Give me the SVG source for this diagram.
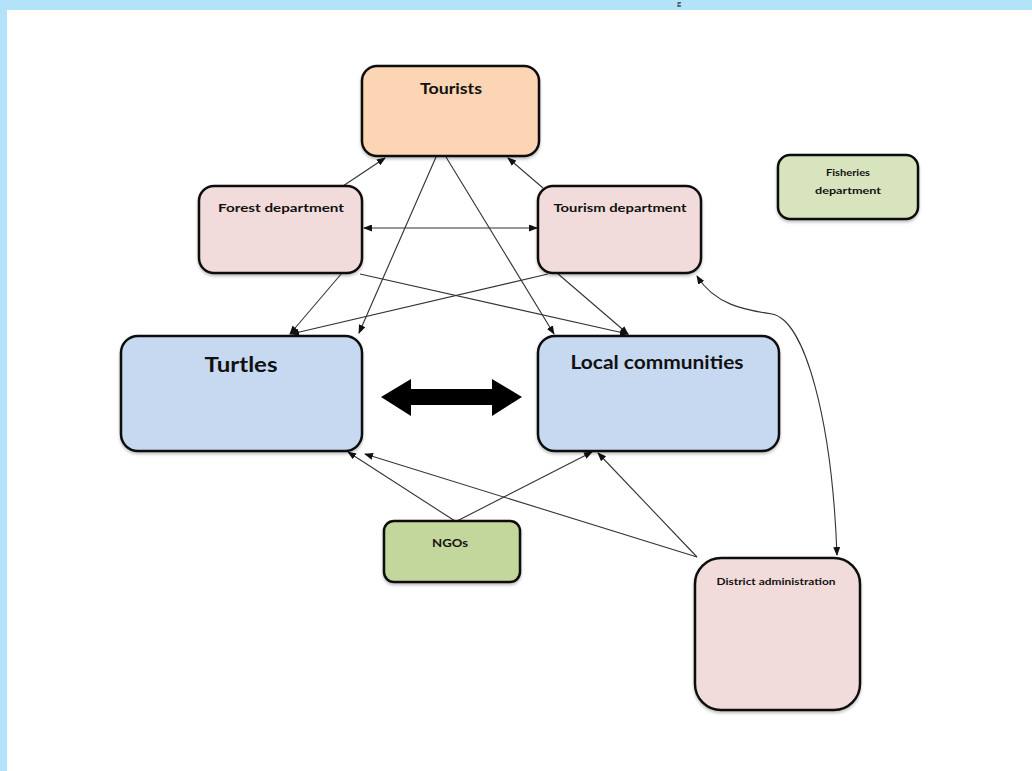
<svg xmlns="http://www.w3.org/2000/svg" width="1032" height="771" viewBox="0 0 1032 771">
<defs>
<marker id="ah" markerUnits="userSpaceOnUse" markerWidth="9" markerHeight="7" refX="8" refY="3.5" orient="auto-start-reverse">
<path d="M0,0 L9,3.5 L0,7 z" fill="#111"/>
</marker>
<filter id="sh" x="-10%" y="-10%" width="120%" height="130%">
<feDropShadow dx="0" dy="2" stdDeviation="1.5" flood-color="#000" flood-opacity="0.25"/>
</filter>
</defs>
<style>
.box{stroke:#111;stroke-width:2.5;filter:url(#sh)}
.pink{fill:#f2dcdb}
.peach{fill:#fcd5b4}
.blue{fill:#c6d9f1}
.green{fill:#d7e4bd}
.green2{fill:#c3d69b}
.t{font-family:Lato,"Liberation Sans",sans-serif;font-weight:bold;fill:#111;text-anchor:middle}
.c{fill:none;stroke:#333;stroke-width:1.1}
</style>
<rect x="0" y="0" width="1032" height="771" fill="#fff"/>
<rect x="0" y="0" width="1032" height="10" fill="#b3e3f9"/>
<rect x="0" y="0" width="7" height="771" fill="#b3e3f9"/>
<text x="677" y="6" font-family="Lato,'Liberation Sans',sans-serif" font-size="8" fill="#111">g</text>

<g id="connectors">
<line class="c" x1="343" y1="186" x2="385" y2="158" marker-end="url(#ah)"/>
<line class="c" x1="543" y1="188" x2="508" y2="158" marker-end="url(#ah)"/>
<line class="c" x1="364" y1="228" x2="537" y2="228" marker-start="url(#ah)" marker-end="url(#ah)"/>
<line class="c" x1="436" y1="157" x2="359" y2="333" marker-end="url(#ah)"/>
<line class="c" x1="446" y1="157" x2="554" y2="334" marker-end="url(#ah)"/>
<line class="c" x1="342" y1="273" x2="290" y2="334" marker-end="url(#ah)"/>
<line class="c" x1="360" y1="274" x2="628" y2="334" marker-end="url(#ah)"/>
<line class="c" x1="548" y1="274" x2="291" y2="334" marker-end="url(#ah)"/>
<line class="c" x1="557" y1="273" x2="628" y2="334" marker-end="url(#ah)"/>
<path class="c" d="M697,276 C715,305 745,310 772,314 C805,320 832,420 837,555" marker-start="url(#ah)" marker-end="url(#ah)"/>
<line class="c" x1="455" y1="521" x2="348" y2="452" marker-end="url(#ah)"/>
<line class="c" x1="457" y1="521" x2="592" y2="452" marker-end="url(#ah)"/>
<line class="c" x1="697" y1="557" x2="365" y2="454" marker-end="url(#ah)"/>
<line class="c" x1="697" y1="557" x2="598" y2="453" marker-end="url(#ah)"/>
<path d="M381,397 L411,379 L411,389 L492,389 L492,379 L522,397 L492,416 L492,405 L411,405 L411,416 Z" fill="#000"/>
</g>

<g id="tourists">
<rect class="box peach" x="362" y="66" width="177" height="90" rx="15"/>
<text class="t" x="451" y="94" font-size="16" textLength="62" lengthAdjust="spacingAndGlyphs">Tourists</text>
</g>
<g id="forest">
<rect class="box pink" x="199" y="186" width="163" height="87" rx="15"/>
<text class="t" x="281" y="212" font-size="11" textLength="126" lengthAdjust="spacingAndGlyphs">Forest department</text>
</g>
<g id="tourism">
<rect class="box pink" x="538" y="186" width="163" height="87" rx="15"/>
<text class="t" x="620" y="212" font-size="11" textLength="133" lengthAdjust="spacingAndGlyphs">Tourism department</text>
</g>
<g id="fisheries">
<rect class="box green" x="778" y="155" width="140" height="64" rx="12"/>
<text class="t" x="848" y="176" font-size="10" textLength="44" lengthAdjust="spacingAndGlyphs">Fisheries</text>
<text class="t" x="848" y="194" font-size="10" textLength="66" lengthAdjust="spacingAndGlyphs">department</text>
</g>
<g id="turtles">
<rect class="box blue" x="121" y="336" width="241" height="115" rx="17"/>
<text class="t" x="241" y="372" font-size="20" textLength="73" lengthAdjust="spacingAndGlyphs">Turtles</text>
</g>
<g id="local">
<rect class="box blue" x="538" y="336" width="241" height="115" rx="17"/>
<text class="t" x="657" y="369" font-size="18" font-weight="600" textLength="173" lengthAdjust="spacingAndGlyphs">Local communities</text>
</g>
<g id="ngos">
<rect class="box green2" x="384" y="521" width="136" height="61" rx="10"/>
<text class="t" x="450" y="547" font-size="12" textLength="36" lengthAdjust="spacingAndGlyphs">NGOs</text>
</g>
<g id="district">
<rect class="box pink" x="695" y="558" width="165" height="152" rx="26"/>
<text class="t" x="776" y="585" font-size="10" textLength="119" lengthAdjust="spacingAndGlyphs">District administration</text>
</g>
</svg>
